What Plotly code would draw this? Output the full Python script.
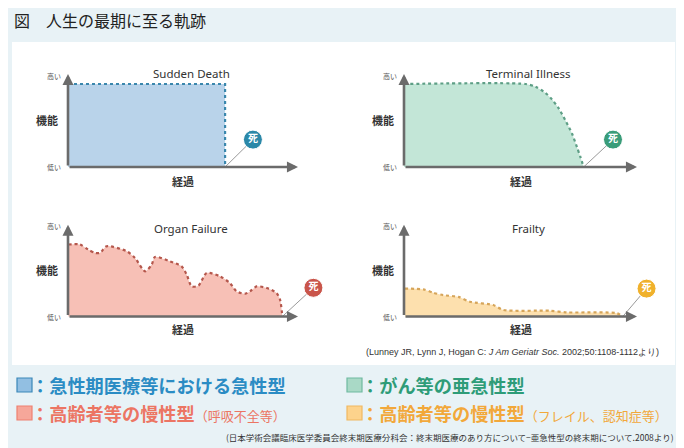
import plotly.graph_objects as go

# 人生の最期に至る軌跡 (横軸: 経過 0-100, 縦軸: 機能 0=低い, 1=高い)
panel_titles = ["Sudden Death", "Terminal Illness", "Organ Failure", "Frailty"]

sudden_x = [0, 68.3, 68.3]
sudden_y = [1.0, 1.0, 0.0]

terminal_x = [0, 52.1, 56.4, 60.6, 63.5, 66.4, 69.2, 72.1, 74.2, 75.7, 77.1]
terminal_y = [1.0, 1.0, 0.968, 0.895, 0.815, 0.706, 0.565, 0.403, 0.242, 0.121, 0.0]

organ_x = [0.1, 5.2, 8.8, 11.7, 13.9, 16.8, 25.5, 29.1, 33.5, 36.4, 37.8, 44.3,
           49.4, 51.6, 53.8, 56.7, 60.3, 66.1, 70.4, 73.3, 77.0, 79.1, 82.0,
           86.4, 90.7, 92.2, 93.2]
organ_y = [0.878, 0.878, 0.816, 0.776, 0.776, 0.857, 0.796, 0.714, 0.551, 0.633,
           0.727, 0.673, 0.612, 0.51, 0.367, 0.376, 0.531, 0.49, 0.408, 0.306,
           0.278, 0.306, 0.367, 0.347, 0.286, 0.204, 0.0]

frailty_x = [0.4, 8.3, 12.6, 16.9, 23.3, 28.3, 38.3, 42.6, 62.7, 69.8, 91.3, 93.9]
frailty_y = [0.34, 0.33, 0.29, 0.26, 0.24, 0.18, 0.14, 0.08, 0.07, 0.05, 0.04, 0.0]

death_x = [68.3, 77.1, 93.2, 93.9]
death_label_x = [80.4, 89.7, 106.7, 104.1]
death_label_y = [0.33, 0.33, 0.35, 0.34]

curves = [(sudden_x, sudden_y), (terminal_x, terminal_y),
          (organ_x, organ_y), (frailty_x, frailty_y)]

fill_colors = ["#b9d3ea", "#c3e6d7", "#f7c0b6", "#fde0ae"]
line_colors = ["#3a87ad", "#5e9f86", "#b5574c", "#d6a55a"]
death_colors = ["#2b88a8", "#3a9c79", "#c9554a", "#f0b12c"]
shapes_line = ["linear", "spline", "spline", "spline"]

legend_texts = [
    "<b>：急性期医療等における急性型</b>",
    "<b>：がん等の亜急性型</b>",
    "<b>：高齢者等の慢性型</b><span style='font-size:13px'>（呼吸不全等）</span>",
    "<b>：高齢者等の慢性型</b><span style='font-size:13px'>（フレイル、認知症等）</span>",
]
legend_colors = ["#2b8cc4", "#2e9c78", "#ec7563", "#f2a83a"]
legend_box_fill = ["#92bfe2", "#a9d9c6", "#f6a79a", "#fdd38c"]
legend_box_line = ["#3a87b8", "#6fb9a0", "#ee8070", "#f0b860"]

# the page body keeps its default 8px margin, so the figure is drawn 8px smaller
# and every pixel position below is given in window pixels
PAGE_MARGIN = 8
W, H = 684 - PAGE_MARGIN, 448 - PAGE_MARGIN
FONT_JP = "Noto Sans CJK JP"
AXIS_GRAY = "#6b6b6b"


def px(x):
    return (x - PAGE_MARGIN) / W


def py(y):
    return 1 - (y - PAGE_MARGIN) / H


# panel geometry in pixels: (y-axis x, px per x unit, baseline y, px per y unit)
geo = [(68, 2.30, 167, 83), (404, 2.33, 167, 83),
       (68, 2.30, 316.5, 82), (404, 2.33, 316.5, 82)]
x_range = [-15, 115]
y_range = [-0.25, 1.25]
title_y = [1.13, 1.13, 1.07, 1.07]
label_y = [-0.17, -0.17, -0.15, -0.15]

fig = go.Figure()
annotations = []
layout_axes = {}

for i, (cx, cy) in enumerate(curves):
    n = "" if i == 0 else str(i + 1)
    xa, ya = "x" + n, "y" + n
    ox, sx, oy, sy = geo[i]
    layout_axes["xaxis" + n] = dict(
        domain=[px(ox + x_range[0] * sx), px(ox + x_range[1] * sx)],
        range=x_range, visible=False, anchor=ya, fixedrange=True,
    )
    layout_axes["yaxis" + n] = dict(
        domain=[py(oy - y_range[0] * sy), py(oy - y_range[1] * sy)],
        range=y_range, visible=False, anchor=xa, fixedrange=True,
    )

    fig.add_trace(go.Scatter(
        x=cx, y=cy, xaxis=xa, yaxis=ya, mode="lines",
        line=dict(color=line_colors[i], width=2.2, dash="dot",
                  shape=shapes_line[i], smoothing=0.7),
        fill="tozeroy", fillcolor=fill_colors[i], hoverinfo="skip",
    ))
    # 死 への引き出し線
    fig.add_trace(go.Scatter(
        x=[death_x[i], death_label_x[i]], y=[0, death_label_y[i]],
        xaxis=xa, yaxis=ya, mode="lines",
        line=dict(color="#9a9a9a", width=1), hoverinfo="skip",
    ))
    fig.add_trace(go.Scatter(
        x=[death_label_x[i]], y=[death_label_y[i]], xaxis=xa, yaxis=ya,
        mode="markers+text", text=["<b>死</b>"], textposition="middle center",
        textfont=dict(color="white", size=10, family=FONT_JP),
        marker=dict(size=19, color=death_colors[i],
                    line=dict(color="white", width=1)),
        hoverinfo="skip",
    ))

    # axes with arrows
    annotations.append(dict(
        x=100, y=0, ax=0, ay=0, xref=xa, yref=ya, axref=xa, ayref=ya,
        showarrow=True, arrowhead=2, arrowsize=0.85, arrowwidth=2.6,
        arrowcolor=AXIS_GRAY, text="",
    ))
    annotations.append(dict(
        x=0, y=1.12, ax=0, ay=0, xref=xa, yref=ya, axref=xa, ayref=ya,
        showarrow=True, arrowhead=2, arrowsize=0.85, arrowwidth=2.6,
        arrowcolor=AXIS_GRAY, text="",
    ))
    annotations.append(dict(
        x=-2, y=1.1, xref=xa, yref=ya, text="高い", showarrow=False,
        xanchor="right", font=dict(size=7, color="#555", family=FONT_JP),
    ))
    annotations.append(dict(
        x=-2, y=0.0, xref=xa, yref=ya, text="低い", showarrow=False,
        xanchor="right", font=dict(size=7, color="#555", family=FONT_JP),
    ))
    annotations.append(dict(
        x=-9, y=0.57, xref=xa, yref=ya, text="<b>機能</b>", showarrow=False,
        font=dict(size=11, color="#333", family=FONT_JP),
    ))
    annotations.append(dict(
        x=50, y=label_y[i], xref=xa, yref=ya, text="<b>経過</b>", showarrow=False,
        font=dict(size=11, color="#333", family=FONT_JP),
    ))
    annotations.append(dict(
        x=53.5, y=title_y[i], xref=xa, yref=ya, text=panel_titles[i],
        showarrow=False, font=dict(size=11.5, color="#333", family="Noto Sans"),
    ))

# title and sources
annotations.append(dict(
    x=px(12), y=py(20), xref="paper", yref="paper", xanchor="left", yanchor="middle",
    text="図　人生の最期に至る軌跡", showarrow=False,
    font=dict(size=16, color="#222", family=FONT_JP),
))
annotations.append(dict(
    x=px(661), y=py(352), xref="paper", yref="paper", xanchor="right", yanchor="middle",
    text="(Lunney JR, Lynn J, Hogan C: <i>J Am Geriatr Soc.</i> 2002;50:1108-1112より)",
    showarrow=False, font=dict(size=9, color="#333", family="Liberation Sans"),
))
annotations.append(dict(
    x=px(676), y=py(437), xref="paper", yref="paper", xanchor="right", yanchor="middle",
    text="(日本学術会議臨床医学委員会終末期医療分科会：終末期医療のあり方について−亜急性型の終末期について.2008より)",
    showarrow=False, font=dict(size=8.5, color="#333", family=FONT_JP),
))

# white card and legend
shapes = [dict(
    type="rect", xref="paper", yref="paper", layer="below",
    x0=px(12), x1=px(675), y0=py(365), y1=py(42),
    fillcolor="white", line=dict(width=0),
)]
leg_pos = [(17, 385), (347, 385), (17, 413), (347, 413)]
for i, (lx, ly) in enumerate(leg_pos):
    shapes.append(dict(
        type="rect", xref="paper", yref="paper",
        x0=px(lx), x1=px(lx + 15), y0=py(ly + 7), y1=py(ly - 7),
        fillcolor=legend_box_fill[i], line=dict(color=legend_box_line[i], width=1.2),
    ))
    annotations.append(dict(
        x=px(lx + 12), y=py(ly), xref="paper", yref="paper",
        xanchor="left", yanchor="middle",
        text=legend_texts[i], showarrow=False,
        font=dict(size=18.2, color=legend_colors[i], family=FONT_JP),
    ))

fig.update_layout(
    width=W, height=H, margin=dict(l=0, r=0, t=0, b=0),
    paper_bgcolor="#e8f2f6", plot_bgcolor="rgba(0,0,0,0)",
    showlegend=False, annotations=annotations, shapes=shapes,
    **layout_axes,
)

fig.write_html("out.html")
